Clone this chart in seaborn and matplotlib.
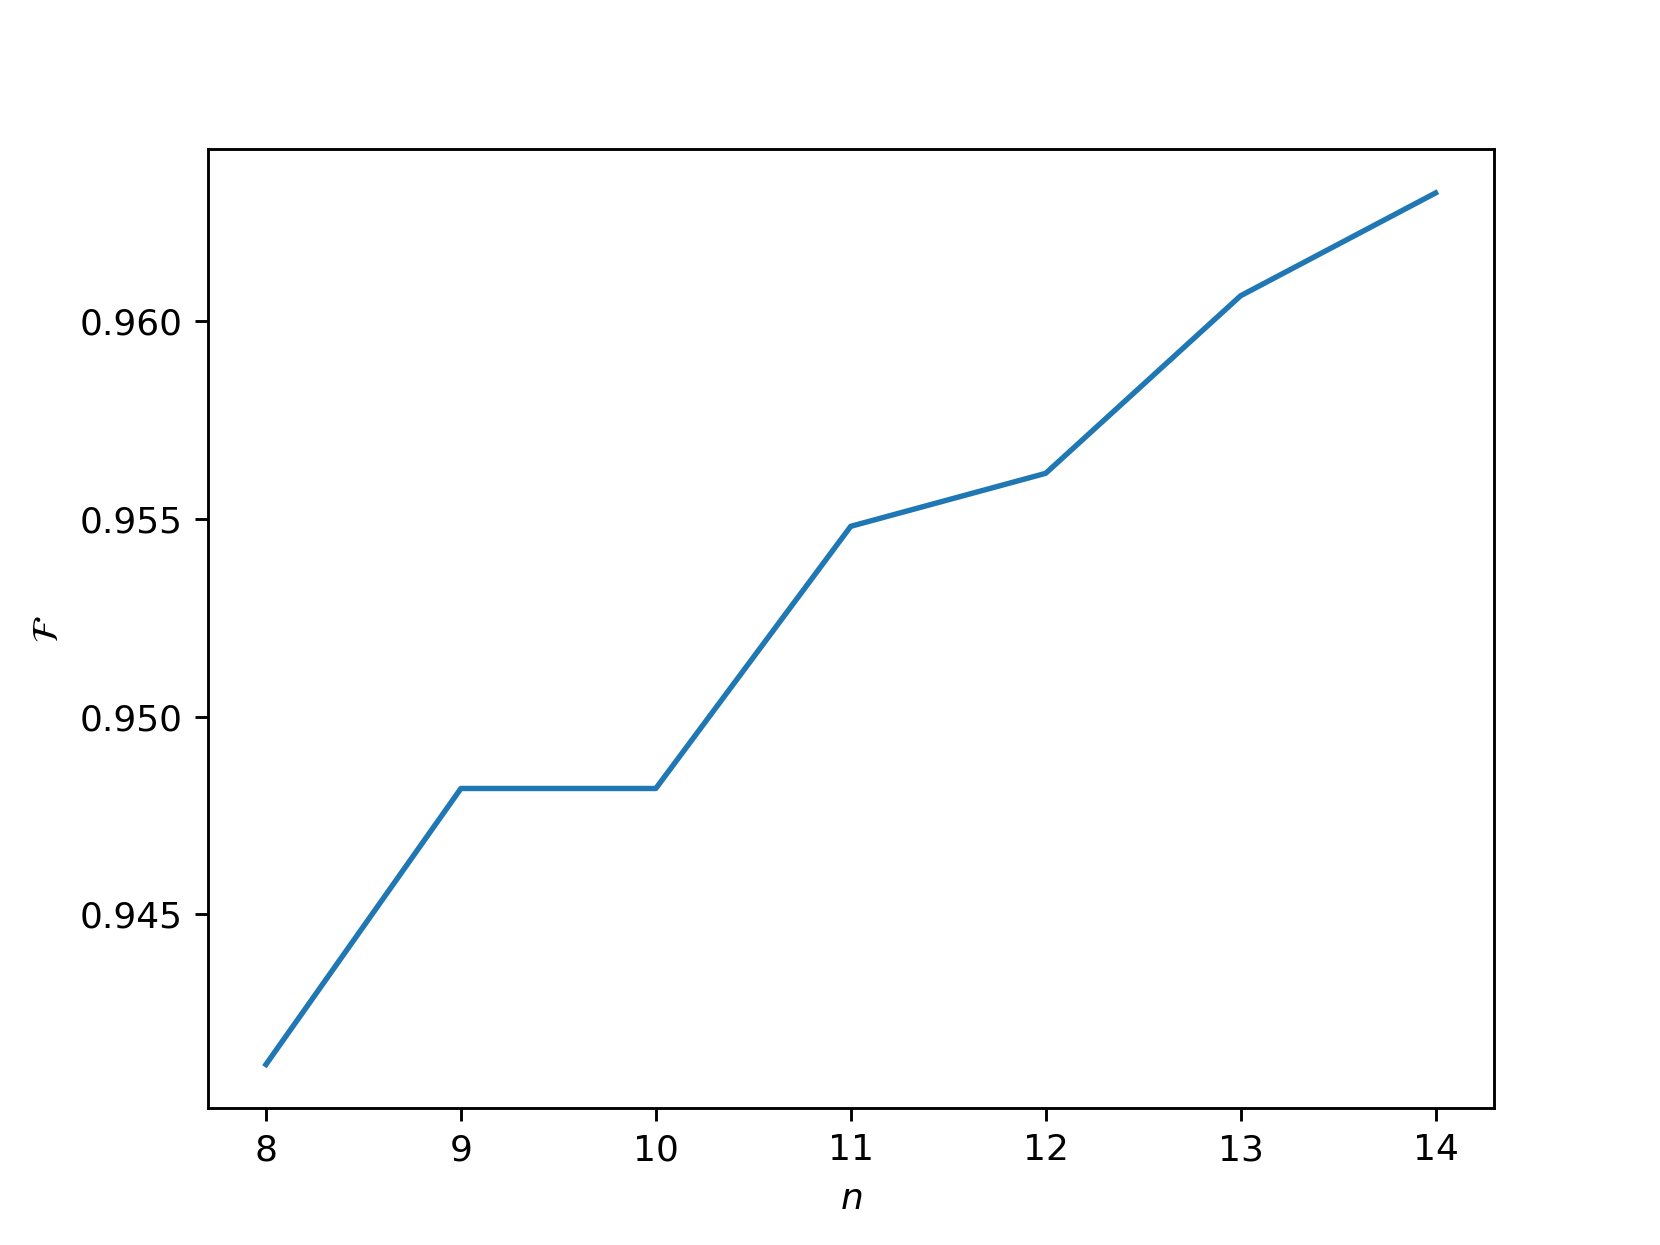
import matplotlib
matplotlib.use('Agg')
import matplotlib.pyplot as plt
import seaborn as sns
import pandas as pd

n_values = [8, 9, 10, 11, 12, 13, 14]
fidelity = [0.94120, 0.94818, 0.94818, 0.95481, 0.95615, 0.96064, 0.96324]

df = pd.DataFrame({'n': n_values, 'F': fidelity})

fig, ax = plt.subplots(figsize=(6.4, 4.8), dpi=259.375)
sns.lineplot(data=df, x='n', y='F', ax=ax, color='#1f77b4', linewidth=1.5)
ax.set_xlabel(r'$n$')
ax.set_ylabel(r'$\mathcal{F}$')
ax.set_yticks([0.945, 0.950, 0.955, 0.960])

fig.savefig('out.png', dpi=259.375)
